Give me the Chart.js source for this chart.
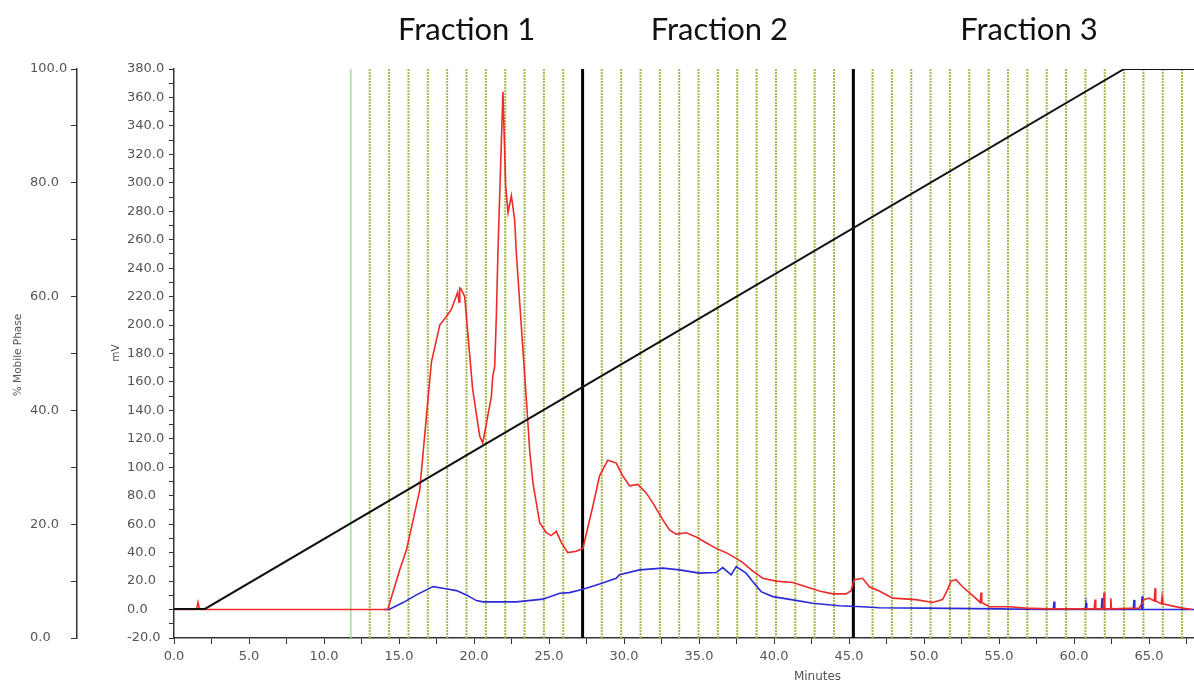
<!DOCTYPE html>
<html>
<head>
<meta charset="utf-8">
<script src="https://cdn.jsdelivr.net/npm/chart.js@4.4.1/dist/chart.umd.min.js"></script>
<style>
  html, body { margin: 0; padding: 0; background: #fff; }
  #wrap { width: 1194px; height: 680px; position: relative; }
</style>
</head>
<body>
<div id="wrap"><canvas id="Chart"></canvas></div>
<script>
// detector 1 (red), minutes / mV
var redTime = [0, 1.5, 1.6, 1.7, 14.25, 15.05, 15.5, 16.38, 16.83, 17.16,
    17.72, 18.16, 18.49, 18.91, 19.0, 19.05, 19.16, 19.38, 19.58, 19.91,
    20.38, 20.58, 20.83, 21.16, 21.25, 21.38, 21.49, 21.6, 21.93, 22.11,
    22.27, 22.49, 22.71, 22.82, 23.26, 23.49, 23.71, 23.93, 24.38, 24.82,
    25.15, 25.49, 25.82, 26.26, 26.82, 27.26, 27.93, 28.37, 28.92, 29.48,
    29.92, 30.37, 30.92, 31.48, 31.92, 32.59, 33.03, 33.48, 34.15, 34.81,
    35.48, 36.14, 36.81, 37.48, 37.92, 38.59, 39.25, 40.14, 41.25, 42.14,
    43.02, 43.91, 44.80, 45.13, 45.35, 45.91, 46.35, 47.02, 47.91, 49.46,
    50.57, 51.24, 51.57, 51.80, 52.13, 52.57, 53.23, 53.75, 53.8, 53.85,
    54.35, 55.68, 56.79, 58.34, 60.56, 61.35, 61.4, 61.45, 61.95, 62.0,
    62.05, 62.4, 62.45, 62.5, 64.34, 64.67, 65.0, 65.35, 65.4, 65.45,
    65.82, 65.87, 65.92, 67.22, 67.89];
var redMv = [0, 0, 5, 0, 0, 28, 42, 84, 136, 174,
    200, 206, 211, 223, 216, 226, 225, 220, 195, 155,
    122, 117, 131, 150, 164, 171, 206, 253, 364, 298,
    279, 291, 274, 251, 183, 148, 112, 89, 61, 54,
    52, 55, 47, 40, 41, 43, 73, 94, 105, 103,
    94, 87, 88, 82, 75, 63, 56, 53, 54, 51,
    47, 43, 40, 36, 33, 27, 22, 20, 19, 16,
    13, 11, 11, 13, 21, 22, 16, 13, 8, 7,
    5, 7, 14, 20, 21, 16, 10, 5, 12, 5,
    2, 2, 1, 0.5, 0.5, 0.5, 7, 0.5, 0.5, 12,
    0.5, 0.5, 8, 0.5, 1, 7, 8, 6, 15, 6,
    4, 9, 4, 1, 0];

// detector 2 (blue)
var blueTime = [14.0, 14.34, 15.27, 16.16, 17.27, 17.93, 18.83, 19.49, 20.16, 20.61,
    22.82, 24.60, 25.71, 26.37, 27.26, 28.37, 29.48, 29.70, 31.04, 32.59,
    33.70, 35.03, 36.14, 36.58, 37.14, 37.48, 38.14, 38.59, 39.14, 39.92,
    41.25, 42.58, 44.36, 45.91, 47.02, 50.0, 55.0, 58.0, 58.62, 58.67,
    58.72, 60.75, 60.8, 60.85, 61.82, 61.87, 61.92, 63.95, 64.0, 64.05,
    64.49, 64.54, 64.59, 68];
var blueMv = [0, 0, 4.9, 10.3, 16.1, 15.0, 13.3, 10.3, 6.3, 5.4,
    5.4, 7.3, 11.5, 11.9, 14.3, 18.0, 22.0, 24.4, 27.9, 29.1,
    27.9, 25.6, 26.0, 29.5, 24.4, 30.2, 25.6, 19.6, 12.6, 9.1,
    6.8, 4.4, 2.7, 2.0, 1.3, 1.0, 0.5, 0, 0, 5.6,
    0, 0, 4.6, 0, 0, 8, 0, 0, 6.8, 0,
    0, 9.4, 0, 0];

// gradient, % mobile phase
var gradTime = [0, 2.06, 63.34, 68];
var gradPct = [5.1, 5.1, 100, 100];

// fraction collector marks
var collectStart = [11.79];
var fractionTimes = [13.05, 14.34, 15.63, 16.92, 18.21, 19.50, 20.79, 22.08, 23.37, 24.66,
    25.95, 28.52, 29.81, 31.10, 32.39, 33.68, 34.97, 36.26, 37.55, 38.84,
    40.13, 41.42, 42.71, 44.00, 46.57, 47.86, 49.15, 50.44, 51.73, 53.02,
    54.31, 55.60, 56.89, 58.18, 59.47, 60.76, 62.05, 63.34, 64.63, 65.92, 67.20];
var poolBounds = [27.24, 45.29];

var poolNames = ['Fraction 1', 'Fraction 2', 'Fraction 3'];
var poolCenters = [19.51, 36.36, 57.0];

function pts(xs, ys) {
    return xs.map(function (x, i) { return {x: x, y: ys[i]}; });
}
function vlines(ts) {
    var out = [];
    ts.forEach(function (t) {
        out.push({x: t, y: -20}, {x: t, y: 380}, {x: t, y: null});
    });
    return out;
}

var labels = {
    id: 'labels',
    afterLayout: function (chart) {
        // tick labels are left aligned in the original
        chart.scales.y.left = 127;
        chart.scales.y2.left = 30;
    },
    afterDraw: function (chart) {
        var ctx = chart.ctx;
        var x = chart.scales.x;
        ctx.save();
        ctx.fillStyle = '#111';
        ctx.font = '31px Lato';
        ctx.textAlign = 'center';
        ctx.textBaseline = 'alphabetic';
        poolNames.forEach(function (n, i) {
            ctx.fillText(n, x.getPixelForValue(poolCenters[i]), 40);
        });

        ctx.fillStyle = '#555';
        ctx.font = '12px "DejaVu Sans"';
        ctx.textBaseline = 'top';
        ctx.fillText('Minutes', x.getPixelForValue(42.9), 671);

        ctx.font = '10.5px "DejaVu Sans"';
        ctx.textBaseline = 'middle';
        ctx.translate(18, 355);
        ctx.rotate(-Math.PI / 2);
        ctx.fillText('% Mobile Phase', 0, 0);
        ctx.restore();

        ctx.save();
        ctx.fillStyle = '#555';
        ctx.font = '10.5px "DejaVu Sans"';
        ctx.textAlign = 'center';
        ctx.textBaseline = 'middle';
        ctx.translate(116, 353);
        ctx.rotate(-Math.PI / 2);
        ctx.fillText('mV', 0, 0);
        ctx.restore();
    }
};

var tickFont = {family: 'DejaVu Sans', size: 13};

new Chart(document.getElementById('Chart'), {
    type: 'line',
    data: {
        datasets: [{
            data: pts(gradTime, gradPct),
            yAxisID: 'y2',
            borderColor: '#111',
            borderWidth: 2,
            order: 0
        }, {
            data: pts(redTime, redMv),
            borderColor: '#ee2a2a',
            borderWidth: 1.6,
            order: 1
        }, {
            data: pts(blueTime, blueMv),
            borderColor: '#2a2ad8',
            borderWidth: 1.6,
            order: 2
        }, {
            data: vlines(poolBounds),
            borderColor: '#000',
            borderWidth: 3,
            order: 3
        }, {
            data: vlines(fractionTimes),
            borderColor: '#a9b84e',
            borderWidth: 2,
            borderDash: [2, 1],
            order: 4
        }, {
            data: vlines(collectStart),
            borderColor: '#9de39d',
            borderWidth: 1.5,
            order: 5
        }]
    },
    options: {
        responsive: true,
        maintainAspectRatio: false,
        animation: false,
        spanGaps: false,
        layout: {padding: {top: 69, right: 0, left: 0, bottom: 0}},
        elements: {
            point: {radius: 0},
            line: {tension: 0, fill: false}
        },
        plugins: {
            legend: {display: false},
            tooltip: {enabled: false}
        },
        scales: {
            x: {
                type: 'linear',
                min: 0,
                max: 68,
                afterFit: function (s) { s.height = 42; },
                border: {color: '#333', width: 1.5},
                grid: {drawOnChartArea: false, tickLength: 6, color: '#333'},
                ticks: {
                    stepSize: 2.5,
                    autoSkip: false,
                    includeBounds: false,
                    maxRotation: 0,
                    padding: 5,
                    color: '#555',
                    font: tickFont,
                    callback: function (v) { return v % 5 === 0 ? v.toFixed(1) : ''; }
                }
            },
            y: {
                position: 'left',
                weight: 0,
                min: -20,
                max: 380,
                afterFit: function (s) { s.width = 97; },
                border: {color: '#333', width: 1.5},
                grid: {drawOnChartArea: false, tickLength: 5, color: '#333'},
                ticks: {
                    stepSize: 10,
                    autoSkip: false,
                    crossAlign: 'far',
                    color: '#555',
                    font: tickFont,
                    callback: function (v) { return Math.round(v) % 20 === 0 ? v.toFixed(1) : ''; }
                }
            },
            y2: {
                position: 'left',
                weight: 1,
                min: 0,
                max: 100,
                afterFit: function (s) { s.width = 77; },
                border: {color: '#333', width: 1.5},
                grid: {drawOnChartArea: false, tickLength: 6, color: '#333'},
                ticks: {
                    stepSize: 10,
                    autoSkip: false,
                    crossAlign: 'far',
                    color: '#555',
                    font: tickFont,
                    callback: function (v) { return Math.round(v) % 20 === 0 ? v.toFixed(1) : ''; }
                }
            }
        }
    },
    plugins: [labels]
});
</script>
</body>
</html>
